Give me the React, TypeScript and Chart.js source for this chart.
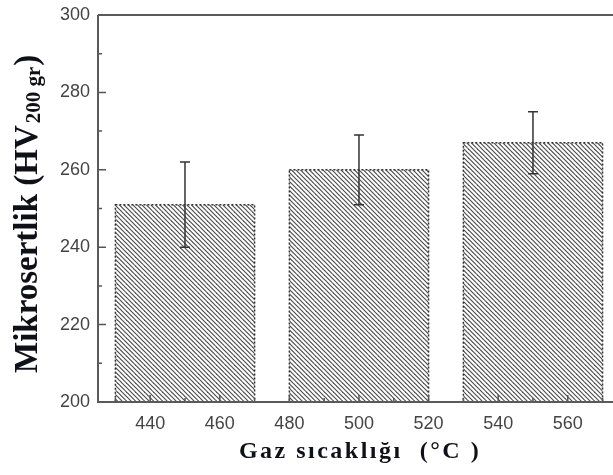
import React, { useEffect, useRef } from "react";
import { Chart, registerables } from "chart.js";

Chart.register(...registerables);

const temperatures = [450, 500, 550];
const hardness = [251, 260, 267];
const errUpper = [262, 269, 275];
const errLower = [240, 251, 259];
const yTickValues = [200, 220, 240, 260, 280, 300];
const yMinorValues = [210, 230, 250, 270, 290];
const xTickValues = [440, 460, 480, 500, 520, 540, 560];
const xMinorValues = [430, 450, 470, 490, 510, 530, 550, 570];
const xTitle = "Gaz sıcaklığı  (°C )";
const yTitleMain = "Mikrosertlik (HV";
const yTitleSub = "200 gr";
const yTitleEnd = ")";

function makeHatch(): CanvasPattern | string {
  const c = document.createElement("canvas");
  c.width = 9;
  c.height = 9;
  const g = c.getContext("2d");
  if (!g) return "#999";
  g.fillStyle = "#ffffff";
  g.fillRect(0, 0, 9, 9);
  g.strokeStyle = "#505050";
  g.lineWidth = 1.2;
  for (let k = -3; k <= 3; k++) {
    const off = k * 4.5;
    g.beginPath();
    g.moveTo(off - 2, -2);
    g.lineTo(off + 11, 11);
    g.stroke();
  }
  const p = g.createPattern(c, "repeat");
  return p || "#999";
}

const framePlugin = {
  id: "frame",
  afterDatasetsDraw(chart: any) {
    const { ctx, chartArea, scales } = chart;
    const xs = scales.x;
    const ys = scales.y;
    const meta = chart.getDatasetMeta(0);
    ctx.save();
    ctx.beginPath();
    ctx.rect(chartArea.left, chartArea.top, chartArea.right - chartArea.left, chartArea.bottom - chartArea.top);
    ctx.clip();
    ctx.strokeStyle = "#333";
    ctx.lineWidth = 1.5;
    ctx.setLineDash([2, 2]);
    meta.data.forEach((bar: any) => {
      const half = bar.width / 2;
      ctx.strokeRect(bar.x - half, bar.y, bar.width, chartArea.bottom - bar.y);
    });
    ctx.setLineDash([]);
    ctx.strokeStyle = "#333";
    ctx.lineWidth = 1.5;
    temperatures.forEach((t, i) => {
      const px = xs.getPixelForValue(t);
      const yt = ys.getPixelForValue(errUpper[i]);
      const yb = ys.getPixelForValue(errLower[i]);
      ctx.beginPath();
      ctx.moveTo(px, yt);
      ctx.lineTo(px, yb);
      ctx.moveTo(px - 5, yt);
      ctx.lineTo(px + 5, yt);
      ctx.moveTo(px - 5, yb);
      ctx.lineTo(px + 5, yb);
      ctx.stroke();
    });
    ctx.restore();

    ctx.save();
    ctx.strokeStyle = "#555";
    ctx.lineWidth = 1.5;
    ctx.beginPath();
    yTickValues.forEach((v) => {
      const py = ys.getPixelForValue(v);
      ctx.moveTo(chartArea.left, py);
      ctx.lineTo(chartArea.left + 8, py);
    });
    yMinorValues.forEach((v) => {
      const py = ys.getPixelForValue(v);
      ctx.moveTo(chartArea.left, py);
      ctx.lineTo(chartArea.left + 4, py);
    });
    xTickValues.forEach((v) => {
      const px = xs.getPixelForValue(v);
      ctx.moveTo(px, chartArea.bottom);
      ctx.lineTo(px, chartArea.bottom - 7);
    });
    xMinorValues.forEach((v) => {
      const px = xs.getPixelForValue(v);
      ctx.moveTo(px, chartArea.bottom);
      ctx.lineTo(px, chartArea.bottom - 4);
    });
    ctx.stroke();
    ctx.strokeStyle = "#5a5a5a";
    ctx.lineWidth = 2;
    ctx.beginPath();
    ctx.moveTo(chartArea.left, chartArea.top);
    ctx.lineTo(chartArea.left, chartArea.bottom);
    ctx.lineTo(chartArea.right, chartArea.bottom);
    ctx.moveTo(chartArea.left, chartArea.top);
    ctx.lineTo(chartArea.right, chartArea.top);
    ctx.stroke();

    ctx.fillStyle = "#101018";
    ctx.textBaseline = "alphabetic";
    ctx.font = "bold 24px 'Liberation Serif', 'Times New Roman', serif";
    (ctx as any).letterSpacing = "2.5px";
    ctx.textAlign = "center";
    ctx.fillText(xTitle, 360, 458);
    (ctx as any).letterSpacing = "0px";

    ctx.translate(37, 373);
    ctx.rotate(-Math.PI / 2);
    ctx.textAlign = "left";
    ctx.font = "bold 33px 'Liberation Serif', 'Times New Roman', serif";
    ctx.fillText(yTitleMain, 0, 0);
    const w1 = ctx.measureText(yTitleMain).width;
    ctx.font = "bold 21px 'Liberation Serif', 'Times New Roman', serif";
    ctx.fillText(yTitleSub, w1 + 2, 3);
    const w2 = ctx.measureText(yTitleSub).width;
    ctx.font = "bold 33px 'Liberation Serif', 'Times New Roman', serif";
    ctx.fillText(yTitleEnd, w1 + w2 + 3, 0);
    ctx.restore();
  },
};

export default function App() {
  const ref = useRef<HTMLCanvasElement | null>(null);
  useEffect(() => {
    if (!ref.current) return;
    const hatch = makeHatch();
    const chart = new Chart(ref.current, {
      type: "bar",
      data: {
        datasets: [
          {
            data: temperatures.map((t, i) => ({ x: t, y: hardness[i] })),
            backgroundColor: hatch as any,
            borderWidth: 0,
            barPercentage: 2,
            categoryPercentage: 1,
          },
        ],
      },
      options: {
        responsive: false,
        animation: false,
        layout: { padding: { top: 15, right: 0, left: 0, bottom: 0 } },
        plugins: { legend: { display: false }, tooltip: { enabled: false } },
        scales: {
          x: {
            type: "linear",
            min: 425,
            max: 573,
            offset: false,
            grid: { display: false, offset: false, drawTicks: false },
            border: { display: false },
            afterBuildTicks: (s: any) => {
              s.ticks = xTickValues.map((v) => ({ value: v }));
            },
            afterFit: (s: any) => {
              s.height = 73;
            },
            ticks: {
              padding: 11,
              color: "#444",
              font: { family: "'Liberation Sans', Arial, sans-serif", size: 18 },
              maxRotation: 0,
            },
          },
          y: {
            min: 200,
            max: 300,
            grid: { display: false, drawTicks: false },
            border: { display: false },
            afterBuildTicks: (s: any) => {
              s.ticks = yTickValues.map((v) => ({ value: v }));
            },
            afterFit: (s: any) => {
              s.width = 98;
            },
            ticks: {
              padding: 8,
              color: "#444",
              font: { family: "'Liberation Sans', Arial, sans-serif", size: 18, lineHeight: 0.5 },
            },
          },
        },
      },
      plugins: [framePlugin],
    });
    return () => chart.destroy();
  }, []);
  return (
    <div style={{ position: "absolute", left: 0, top: 0, width: 613, height: 475, background: "#fff" }}>
      <canvas ref={ref} width={613} height={475} style={{ display: "block" }} />
    </div>
  );
}
